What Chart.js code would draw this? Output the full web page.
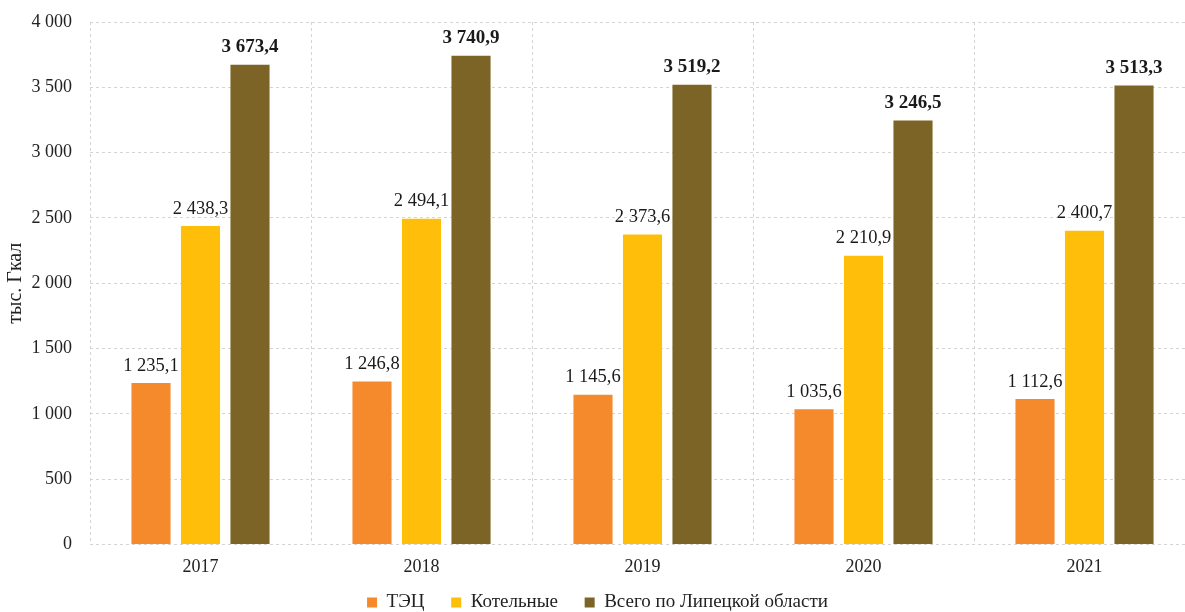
<!DOCTYPE html>
<html lang="ru">
<head>
<meta charset="utf-8">
<script src="https://cdn.jsdelivr.net/npm/chart.js@4"></script>
<style>
  html, body { margin: 0; padding: 0; background: #fff; overflow: hidden; }
  #wrap { width: 1205px; height: 622px; }
</style>
</head>
<body>
<div id="wrap"><canvas id="myChart"></canvas></div>
<script>
// годы и значения, тыс. Гкал
const years = ['2017', '2018', '2019', '2020', '2021'];
const tec = [1235.1, 1246.8, 1145.6, 1035.6, 1112.6];
const boilers = [2438.3, 2494.1, 2373.6, 2210.9, 2400.7];
const total = [3673.4, 3740.9, 3519.2, 3246.5, 3513.3];
const yTicks = [0, 500, 1000, 1500, 2000, 2500, 3000, 3500, 4000];

const SERIF = '"Liberation Serif", "Times New Roman", serif';

// пробел как разделитель тысяч, запятая в дробной части
function fmt(v, digits) {
    let s = v.toFixed(digits);
    let parts = s.split('.');
    parts[0] = parts[0].replace(/\B(?=(\d{3})+(?!\d))/g, ' ');
    return parts.join(',');
}

// подписи значений над столбцами
const barLabels = {
    id: 'barLabels',
    afterDatasetsDraw(chart) {
        const ctx = chart.ctx;
        ctx.save();
        ctx.textAlign = 'center';
        ctx.textBaseline = 'bottom';
        ctx.fillStyle = '#1a1a1a';
        chart.data.datasets.forEach((ds, i) => {
            const meta = chart.getDatasetMeta(i);
            ctx.font = (i === 2 ? 'bold 19px ' : '18.5px ') + SERIF;
            meta.data.forEach((bar, j) => {
                ctx.fillText(fmt(ds.data[j], 1), bar.x, bar.y - 8);
            });
        });
        ctx.restore();
    }
};

const grid = {
    color: '#d4d4d4',
    lineWidth: 1,
    tickLength: 0
};

var myChart = new Chart(document.getElementById('myChart').getContext('2d'), {
    type: 'bar',
    data: {
        labels: years,
        datasets: [
            { label: 'ТЭЦ', data: tec, backgroundColor: '#F58A2C' },
            { label: 'Котельные', data: boilers, backgroundColor: '#FFBE0A' },
            { label: 'Всего по Липецкой области', data: total, backgroundColor: '#7B6425' }
        ]
    },
    options: {
        responsive: true,
        maintainAspectRatio: false,
        animation: false,
        layout: { padding: { top: 22, right: 10, bottom: 0, left: 0 } },
        datasets: {
            bar: { categoryPercentage: 0.672, barPercentage: 0.79 }
        },
        plugins: {
            tooltip: { enabled: false },
            legend: {
                position: 'bottom',
                labels: {
                    boxWidth: 10,
                    boxHeight: 10,
                    padding: 3,
                    color: '#222',
                    font: { family: SERIF, size: 19 },
                    // широкий промежуток между пунктами легенды
                    generateLabels(chart) {
                        const items = Chart.defaults.plugins.legend.labels.generateLabels(chart);
                        items.forEach((it, i) => {
                            if (i < items.length - 1) it.text += '\u2003\u2005';
                        });
                        return items;
                    }
                }
            }
        },
        scales: {
            x: {
                grid: Object.assign({ offset: true }, grid),
                border: { display: false, dash: [3, 3] },
                ticks: { color: '#222', padding: 12, font: { family: SERIF, size: 18 } }
            },
            y: {
                min: 0,
                max: 4000,
                afterBuildTicks(scale) {
                    scale.ticks = yTicks.map(v => ({ value: v }));
                },
                afterFit(scale) { scale.width = 90; },
                // невидимые засечки дают отступ подписей от сетки
                grid: Object.assign({}, grid, { tickLength: 14, tickColor: 'rgba(0,0,0,0)' }),
                border: { display: false, dash: [3, 3] },
                ticks: {
                    color: '#222',
                    padding: 4,
                    font: { family: SERIF, size: 18 },
                    callback: v => fmt(v, 0)
                },
                title: {
                    display: true,
                    text: 'тыс. Гкал',
                    color: '#222',
                    padding: { top: 4, bottom: 0 },
                    font: { family: SERIF, size: 20 }
                }
            }
        }
    },
    plugins: [barLabels]
});
</script>
</body>
</html>
